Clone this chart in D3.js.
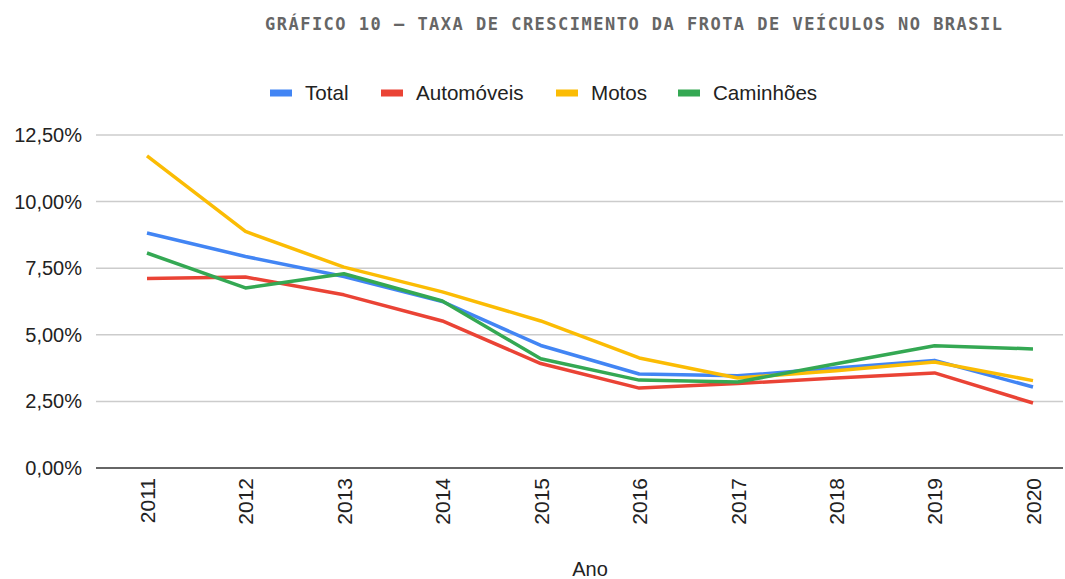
<!DOCTYPE html>
<html>
<head>
<meta charset="utf-8">
<script src="https://cdn.jsdelivr.net/npm/d3@7"></script>
<style>
  body { margin: 0; background: #fff; }
  svg { display: block; }
</style>
</head>
<body>
<div id="chart"></div>
<script>
const title = 'GRÁFICO 10 – TAXA DE CRESCIMENTO DA FROTA DE VEÍCULOS NO BRASIL';
const years = ['2011', '2012', '2013', '2014', '2015', '2016', '2017', '2018', '2019', '2020'];
const yTicks = [0, 2.5, 5, 7.5, 10, 12.5];
const total = [8.82, 7.94, 7.19, 6.25, 4.60, 3.53, 3.46, 3.75, 4.04, 3.04];
const automoveis = [7.11, 7.17, 6.50, 5.52, 3.92, 3.00, 3.17, 3.38, 3.57, 2.44];
const motos = [11.72, 8.88, 7.54, 6.61, 5.52, 4.13, 3.38, 3.65, 3.98, 3.28];
const caminhoes = [8.07, 6.76, 7.29, 6.27, 4.10, 3.30, 3.23, 3.91, 4.59, 4.47];

const series = [
  {label: 'Total', values: total, color: '#4285f4'},
  {label: 'Automóveis', values: automoveis, color: '#ea4335'},
  {label: 'Motos', values: motos, color: '#fbbc04'},
  {label: 'Caminhões', values: caminhoes, color: '#34a853'}
];

class LineChart {
  constructor(selector) {
    this.element = d3.select(selector);
    this.width = 1065;
    this.height = 579;
    this.margin = {top: 135, right: 2, bottom: 111, left: 96};
    this.font = '"Liberation Sans", Arial, sans-serif';
    this.draw();
  }

  draw() {
    this.svg = this.element
      .append('svg')
      .attr('width', this.width)
      .attr('height', this.height)
      .attr('viewBox', `0 0 ${this.width} ${this.height}`);

    this.createScales();
    this.renderTitle();
    this.renderLegend();
    this.renderGrid();
    this.renderAxis();
    this.renderLines();
  }

  createScales() {
    let m = this.margin;
    this.xChart = d3.scalePoint()
      .domain(years)
      .range([147, 1033]);

    this.yChart = d3.scaleLinear()
      .domain([0, 12.5])
      .range([this.height - m.bottom, m.top]);
  }

  renderTitle() {
    this.svg.append('text')
      .attr('x', 633.5)
      .attr('y', 30)
      .attr('text-anchor', 'middle')
      .attr('font-family', '"DejaVu Sans Mono", "Liberation Mono", monospace')
      .attr('font-weight', 'bold')
      .attr('font-size', 17)
      .attr('fill', '#666666')
      .attr('textLength', 737)
      .attr('lengthAdjust', 'spacing')
      .text(title);
  }

  renderLegend() {
    // x positions of the swatches
    let swatchX = [270, 381, 556, 678];
    let legend = this.svg.append('g');

    series.forEach((s, i) => {
      let g = legend.append('g').attr('transform', `translate(${swatchX[i]},93)`);
      g.append('rect')
        .attr('x', 0)
        .attr('y', -3.5)
        .attr('width', 22)
        .attr('height', 7)
        .attr('fill', s.color);
      g.append('text')
        .attr('x', 35)
        .attr('y', 7)
        .attr('font-family', this.font)
        .attr('font-size', 20.6)
        .attr('fill', '#222')
        .text(s.label);
    });
  }

  renderGrid() {
    let m = this.margin;
    this.svg.append('g')
      .selectAll('line')
      .data(yTicks.filter(d => d > 0))
      .enter()
      .append('line')
      .attr('x1', m.left)
      .attr('x2', this.width - m.right)
      .attr('y1', d => this.yChart(d))
      .attr('y2', d => this.yChart(d))
      .attr('stroke', '#cccccc')
      .attr('stroke-width', 1.5);
  }

  renderAxis() {
    let m = this.margin;
    let fmt = d => d.toFixed(2).replace('.', ',') + '%';

    let yAxis = this.svg.append('g')
      .attr('transform', `translate(${m.left},0)`)
      .call(d3.axisLeft(this.yChart).tickValues(yTicks).tickSize(0).tickPadding(14).tickFormat(fmt));
    yAxis.select('.domain').remove();
    yAxis.selectAll('text')
      .attr('font-family', this.font)
      .attr('font-size', 20)
      .attr('fill', '#222');

    // baseline
    this.svg.append('line')
      .attr('x1', m.left)
      .attr('x2', this.width - m.right)
      .attr('y1', this.yChart(0))
      .attr('y2', this.yChart(0))
      .attr('stroke', '#333')
      .attr('stroke-width', 1.5);

    let xAxis = this.svg.append('g')
      .attr('transform', `translate(0,${this.yChart(0)})`)
      .call(d3.axisBottom(this.xChart).tickSize(0).tickPadding(0));
    xAxis.select('.domain').remove();
    xAxis.selectAll('text')
      .attr('font-family', this.font)
      .attr('font-size', 21)
      .attr('fill', '#222')
      .attr('text-anchor', 'end')
      .attr('transform', 'rotate(-90)')
      .attr('x', -10)
      .attr('y', 0)
      .attr('dy', '0.35em');

    this.svg.append('text')
      .attr('x', 590)
      .attr('y', 576)
      .attr('text-anchor', 'middle')
      .attr('font-family', this.font)
      .attr('font-size', 20)
      .attr('fill', '#222')
      .text('Ano');
  }

  renderLines() {
    let line = d3.line()
      .x((d, i) => this.xChart(years[i]))
      .y(d => this.yChart(d));

    this.svg.append('g')
      .selectAll('path')
      .data(series)
      .enter()
      .append('path')
      .attr('d', d => line(d.values))
      .attr('fill', 'none')
      .attr('stroke', d => d.color)
      .attr('stroke-width', 3.5)
      .attr('stroke-linejoin', 'round');
  }
}

new LineChart('#chart');
</script>
</body>
</html>
